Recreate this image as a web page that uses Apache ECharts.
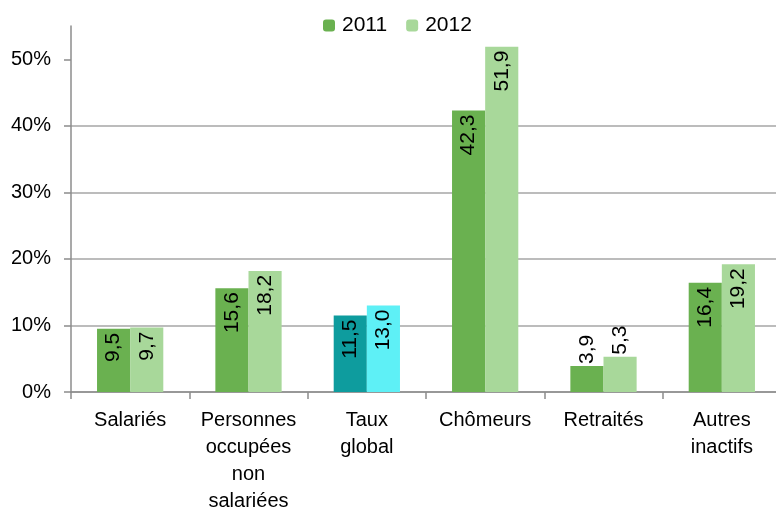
<!DOCTYPE html>
<html><head><meta charset="utf-8">
<script src="https://cdn.jsdelivr.net/npm/echarts@6/dist/echarts.min.js"></script>
<style>html,body{margin:0;padding:0;background:#fff}#c{width:776px;height:511px}</style>
</head><body><div id="c"></div>
<script>
const categories = ['Salariés', 'Personnes\noccupées\nnon\nsalariées', 'Taux\nglobal', 'Chômeurs', 'Retraités', 'Autres\ninactifs'];
const series2011 = [9.5, 15.6, 11.5, 42.3, 3.9, 16.4];
const series2012 = [9.7, 18.2, 13.0, 51.9, 5.3, 19.2];
const yTicks = [0, 10, 20, 30, 40, 50];
const highlightIndex = 2;
const outsideIndex = 4;

const FONT = 'Liberation Sans';
const colors = { c2011: '#6AB150', c2012: '#A8D89A', h2011: '#0E9C9E', h2012: '#5EF0F6' };

function fmt(v) { return v.toFixed(1).replace('.', ','); }

function buildData(values, base, high) {
  return values.map((v, i) => {
    const item = { value: v, itemStyle: { color: i === highlightIndex ? high : base } };
    if (i === outsideIndex) {
      item.label = { position: 'top', align: 'left', distance: 2 };
    }
    return item;
  });
}

const labelCommon = {
  show: true, rotate: 90, position: 'insideTop', align: 'right', verticalAlign: 'middle',
  distance: 4, color: '#000', fontFamily: FONT, fontSize: 21,
  formatter: p => fmt(p.value)
};

const chart = echarts.init(document.getElementById('c'), null, { renderer: 'canvas' });
chart.setOption({
  animation: false,
  textStyle: { fontFamily: FONT },
  legend: {
    top: 10, left: 318, itemWidth: 12, itemHeight: 12, itemGap: 19,
    textStyle: { fontFamily: FONT, fontSize: 21, color: '#000', padding: [0, 0, 0, 2] },
    data: [{ name: '2011', itemStyle: { color: colors.c2011 } }, { name: '2012', itemStyle: { color: colors.c2012 } }]
  },
  grid: { left: 71, right: -5, top: 26, bottom: 119, containLabel: false, outerBoundsMode: 'none' },
  xAxis: {
    type: 'category', data: categories,
    axisLine: { lineStyle: { color: '#8C8C8C', width: 1.5 } },
    axisTick: { show: true, length: 7, lineStyle: { color: '#8C8C8C', width: 1.5 } },
    axisLabel: { color: '#000', fontFamily: FONT, fontSize: 20, lineHeight: 27, margin: 15, interval: 0 }
  },
  yAxis: {
    type: 'value', min: 0, max: 55, interval: 10,
    axisLine: { show: true, lineStyle: { color: '#8C8C8C', width: 1.5 } },
    axisTick: { show: true, length: 7, customValues: yTicks, lineStyle: { color: '#8C8C8C', width: 1.5 } },
    axisLabel: { customValues: yTicks, formatter: '{value}%', color: '#000', fontFamily: FONT, fontSize: 20, margin: 20 },
    splitLine: { show: true, showMaxLine: false, lineStyle: { color: '#A6A6A6', width: 1.5 } }
  },
  series: [
    { name: '2011', type: 'bar', barGap: '0%', barCategoryGap: '44%', itemStyle: { color: colors.c2011 },
      data: buildData(series2011, colors.c2011, colors.h2011), label: labelCommon },
    { name: '2012', type: 'bar', barGap: '0%', barCategoryGap: '44%', itemStyle: { color: colors.c2012 },
      data: buildData(series2012, colors.c2012, colors.h2012), label: labelCommon }
  ]
});
</script></body></html>
